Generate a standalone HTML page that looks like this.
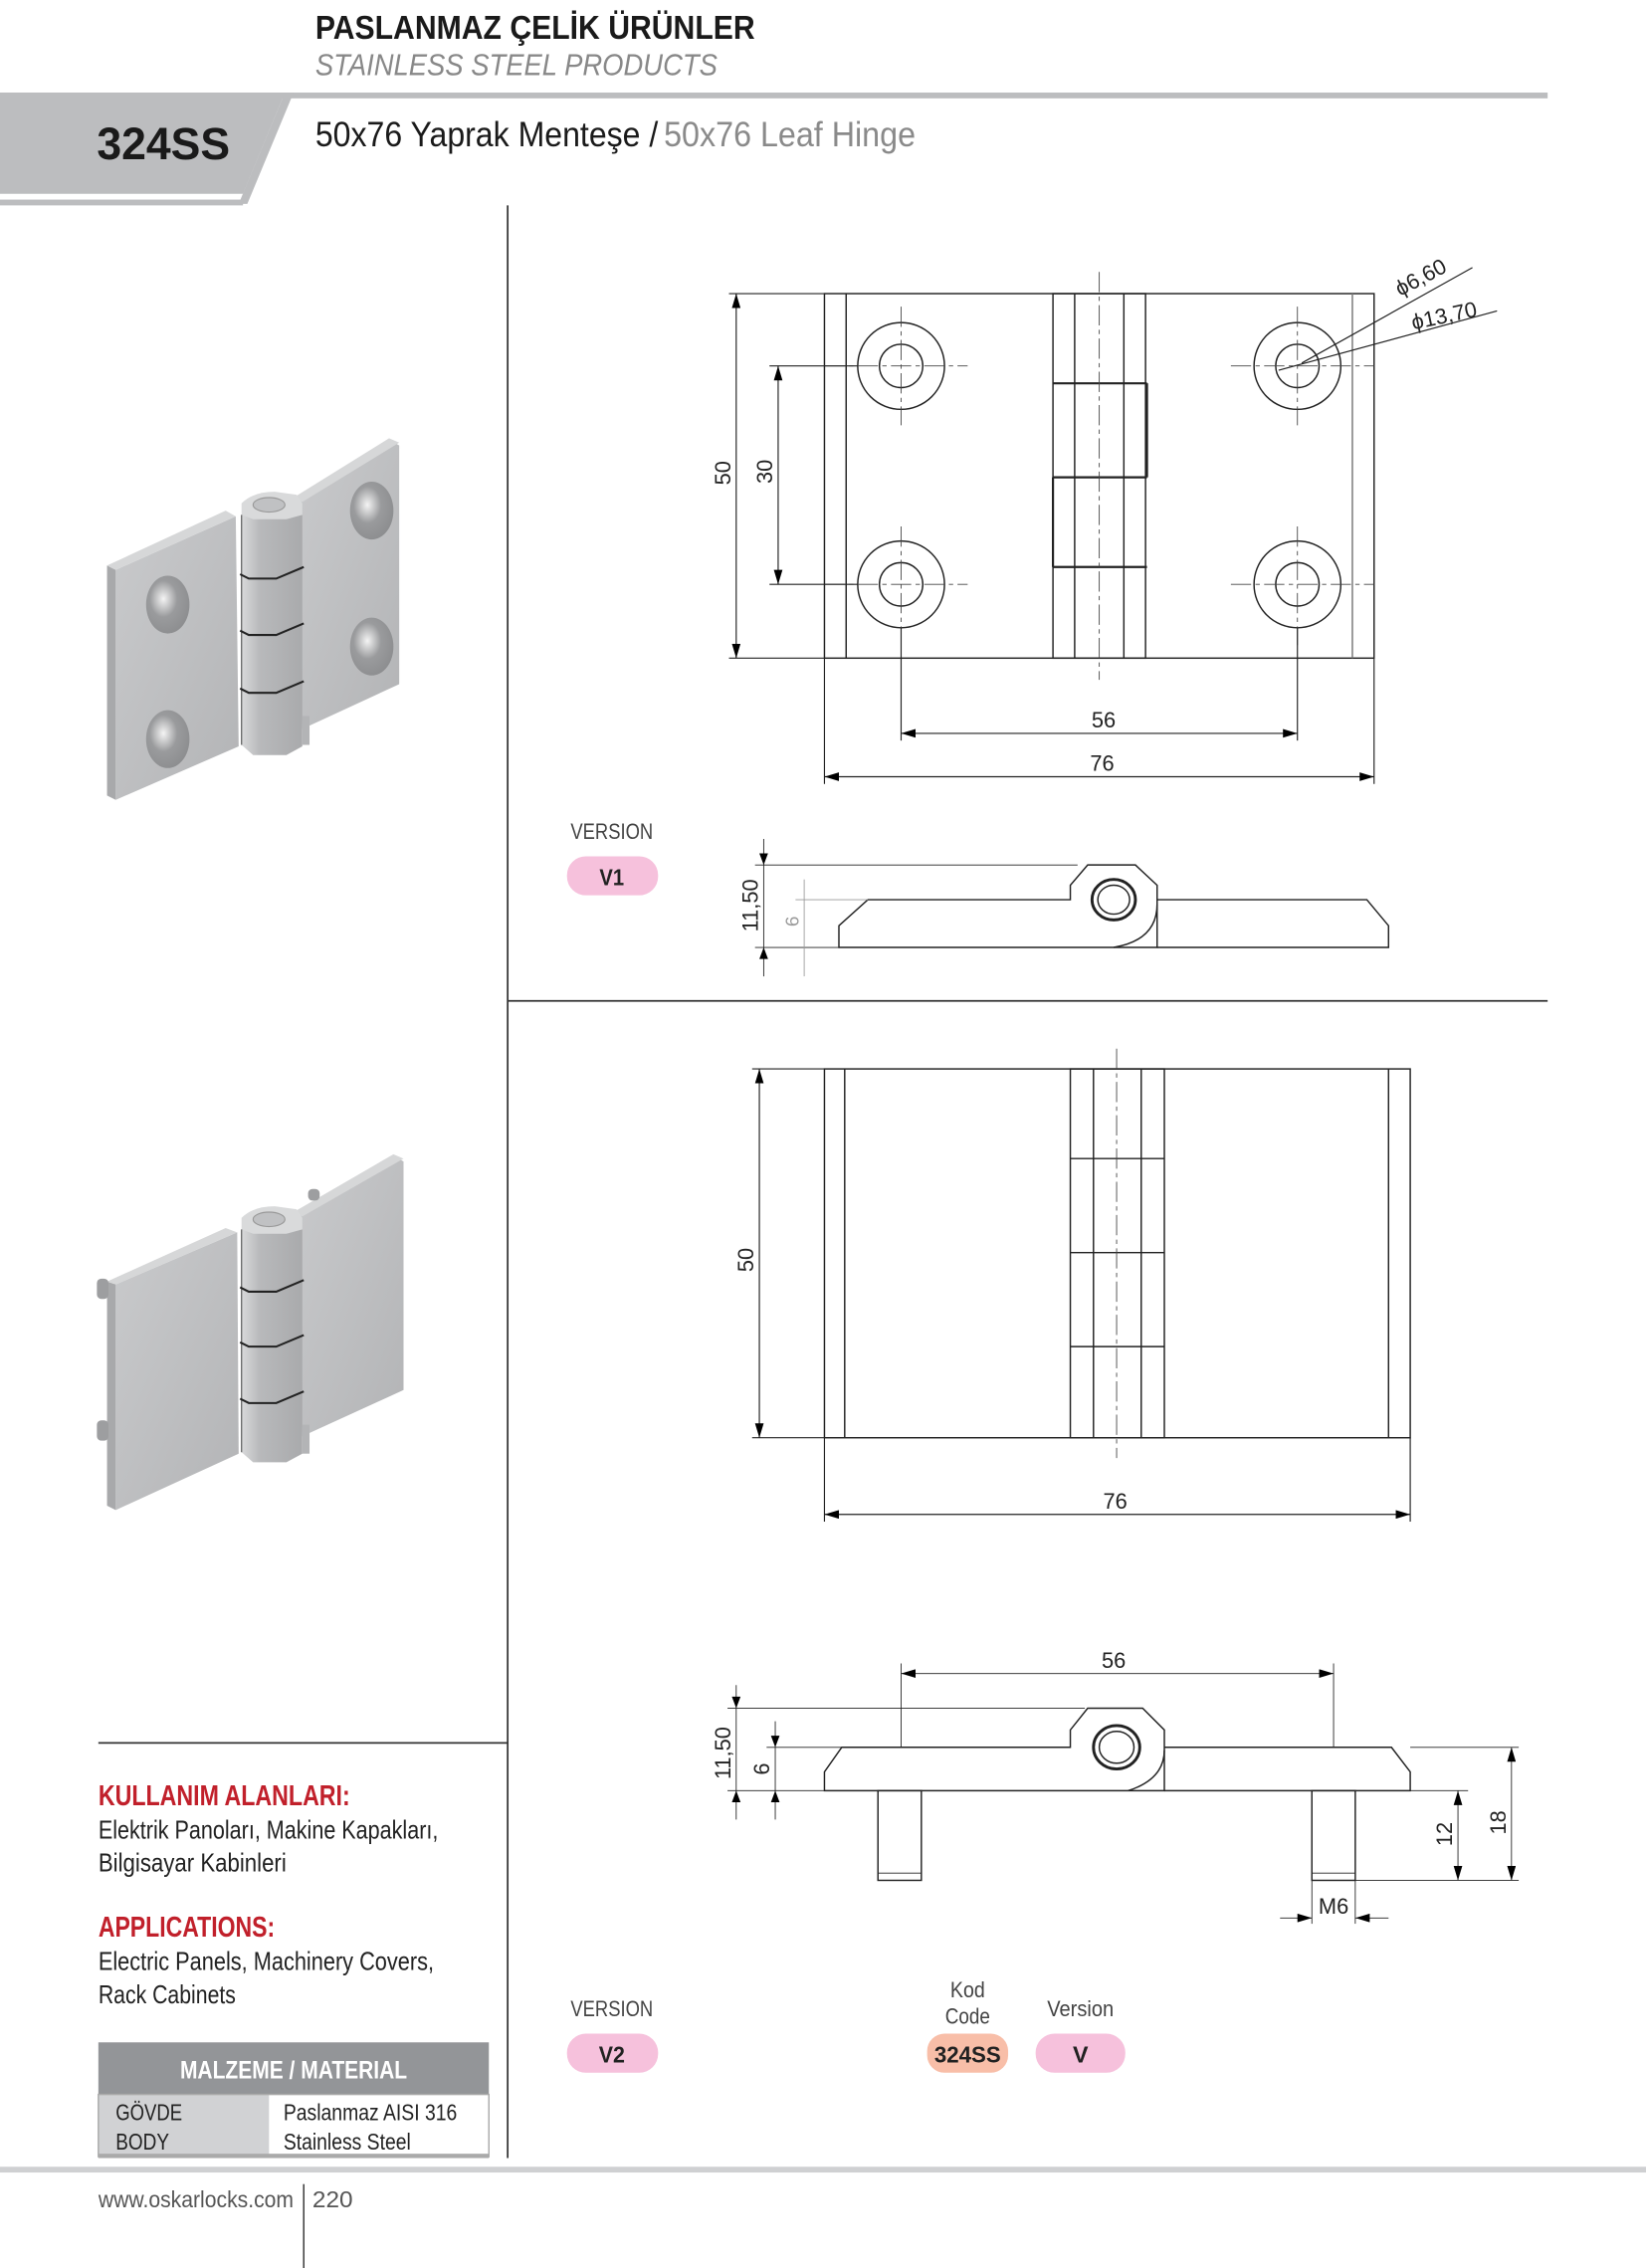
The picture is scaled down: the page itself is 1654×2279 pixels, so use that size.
<!DOCTYPE html>
<html><head><meta charset="utf-8"><style>
html,body{margin:0;padding:0;background:#fff}
svg{display:block}
text{font-family:"Liberation Sans Narrow","Liberation Sans",sans-serif}
</style></head><body>
<svg width="1654" height="2279" viewBox="0 0 1138 1568" preserveAspectRatio="none" xmlns="http://www.w3.org/2000/svg">
<defs>
<marker id="a" markerWidth="10" markerHeight="6" refX="10" refY="3" orient="auto-start-reverse" markerUnits="userSpaceOnUse"><path d="M0,0 L10,3 L0,6z" fill="#000"/></marker>
<linearGradient id="g1" x1="0" y1="0" x2="1" y2="1"><stop offset="0" stop-color="#c9cacc"/><stop offset="1" stop-color="#b3b4b6"/></linearGradient>
<linearGradient id="gk" x1="0" y1="0" x2="1" y2="0"><stop offset="0" stop-color="#d8d9da"/><stop offset="0.3" stop-color="#b8b9bb"/><stop offset="1" stop-color="#a9aaac"/></linearGradient>
<radialGradient id="gh" cx="0.4" cy="0.4" r="0.7"><stop offset="0" stop-color="#f4f4f4"/><stop offset="0.45" stop-color="#9a9b9d"/><stop offset="1" stop-color="#8a8b8d"/></radialGradient>
</defs>
<!-- header -->
<text x="218" y="27" font-size="23" font-weight="bold" fill="#1a1a1a" textLength="304" lengthAdjust="spacingAndGlyphs">PASLANMAZ ÇELİK ÜRÜNLER</text>
<text x="218" y="52" font-size="21" font-style="italic" fill="#888" textLength="278" lengthAdjust="spacingAndGlyphs">STAINLESS STEEL PRODUCTS</text>
<rect x="192" y="64" width="878" height="4" fill="#bcbdbf"/>
<polygon points="0,64 197,64 168,134 0,134" fill="#bcbdbf"/>
<polygon points="197,64 203,64 171,141 165,141" fill="#bcbdbf"/>
<rect x="0" y="138" width="168" height="4" fill="#bcbdbf"/>
<text x="67" y="110" font-size="31" font-weight="bold" fill="#1a1a1a" textLength="92" lengthAdjust="spacingAndGlyphs">324SS</text>
<text x="218" y="101" font-size="24" fill="#1a1a1a" textLength="237" lengthAdjust="spacingAndGlyphs">50x76 Yaprak Menteşe /</text>
<text x="459" y="101" font-size="24" fill="#8a8a8a" textLength="174" lengthAdjust="spacingAndGlyphs">50x76 Leaf Hinge</text>
<!-- frame lines -->
<line x1="351" y1="142" x2="351" y2="1492" stroke="#333" stroke-width="1.2"/>
<line x1="351" y1="692" x2="1070" y2="692" stroke="#333" stroke-width="1.2"/>
<line x1="68" y1="1205" x2="351" y2="1205" stroke="#333" stroke-width="1.2"/>

<!-- isometric hinge 1 -->
<g>
<polygon points="205,345 271,305 276,308 276,473 209,504" fill="url(#g1)"/>
<polygon points="203,344 269,303 276,306 209,347" fill="#d6d7d8"/>
<polygon points="80,394 163,357 165,516 80,553" fill="url(#g1)"/>
<polygon points="74,391 80,394 80,553 74,550" fill="#a8a9ab"/>
<polygon points="74,391 156,353 163,357 80,394" fill="#d6d7d8"/>
<path d="M167,356 L167,515 L175,522 L198,522 L209,516 L209,356 Z" fill="url(#gk)"/>
<rect x="209" y="495" width="5" height="20" fill="#b3b4b6"/>
<path d="M167,356 L167,348 Q175,340 190,340 L205,342 L209,348 L209,356 L198,359 L175,359 Z" fill="#d9dadb"/>
<ellipse cx="186" cy="349" rx="11" ry="5" fill="#c0c1c3" stroke="#999" stroke-width="0.8"/>
<line x1="167" y1="356" x2="167" y2="515" stroke="#555" stroke-width="0.8"/>
<ellipse cx="116" cy="418" rx="15" ry="20" fill="url(#gh)"/><ellipse cx="116" cy="511" rx="15" ry="20" fill="url(#gh)"/>
<ellipse cx="257" cy="353" rx="15" ry="20" fill="url(#gh)"/><ellipse cx="257" cy="447" rx="15" ry="20" fill="url(#gh)"/>
<g stroke="#222" stroke-width="1.4" fill="none"><path d="M166,397 L172,400 L191,400 L210,392"/><path d="M166,436 L172,439 L191,439 L210,431"/><path d="M166,476 L172,479 L191,479 L210,471"/></g>
</g>
<!-- isometric hinge 2 -->
<g>
<polygon points="205,839 274,800 279,803 279,961 209,993" fill="url(#g1)"/>
<polygon points="203,838 272,798 279,801 209,841" fill="#d6d7d8"/>
<rect x="213" y="822" width="8" height="8" rx="3" fill="#9d9ea0"/>
<polygon points="80,888 164,852 165,1005 80,1044" fill="url(#g1)"/>
<polygon points="74,886 80,888 80,1044 74,1041" fill="#a8a9ab"/>
<polygon points="74,886 156,849 164,852 80,888" fill="#d6d7d8"/>
<rect x="67" y="884" width="8" height="14" rx="3" fill="#9d9ea0"/><rect x="67" y="982" width="8" height="14" rx="3" fill="#9d9ea0"/>
<path d="M167,850 L167,1004 L175,1011 L198,1011 L209,1005 L209,850 Z" fill="url(#gk)"/>
<rect x="209" y="985" width="5" height="20" fill="#b3b4b6"/>
<path d="M167,850 L167,842 Q175,834 190,834 L205,836 L209,842 L209,850 L198,853 L175,853 Z" fill="#d9dadb"/>
<ellipse cx="186" cy="843" rx="11" ry="5" fill="#c0c1c3" stroke="#999" stroke-width="0.8"/>
<line x1="167" y1="850" x2="167" y2="1004" stroke="#555" stroke-width="0.8"/>
<g stroke="#222" stroke-width="1.4" fill="none"><path d="M166,890 L172,893 L191,893 L210,885"/><path d="M166,928 L172,931 L191,931 L210,923"/><path d="M166,967 L172,970 L191,970 L210,962"/></g>
</g>

<!-- top drawing -->
<g fill="none" stroke="#222" stroke-width="1">
<rect x="570" y="203" width="380" height="252"/>
<line x1="585" y1="203" x2="585" y2="455"/><line x1="935" y1="203" x2="935" y2="455" stroke="#777"/>
<rect x="728" y="203" width="64" height="252"/>
<line x1="743" y1="203" x2="743" y2="455"/><line x1="777" y1="203" x2="777" y2="455"/>
<line x1="728" y1="265" x2="793" y2="265" stroke-width="1.5"/><line x1="728" y1="330" x2="793" y2="330" stroke-width="1.5"/><line x1="728" y1="392" x2="793" y2="392" stroke-width="1.5"/>
<line x1="793" y1="265" x2="793" y2="330" stroke-width="1.5"/><line x1="728" y1="330" x2="728" y2="392" stroke-width="1.5"/>
<circle cx="623" cy="253" r="30"/><circle cx="623" cy="253" r="15"/>
<circle cx="623" cy="404" r="30"/><circle cx="623" cy="404" r="15"/>
<circle cx="897" cy="253" r="30"/><circle cx="897" cy="253" r="15"/>
<circle cx="897" cy="404" r="30"/><circle cx="897" cy="404" r="15"/>
</g>
<g stroke="#444" stroke-width="0.6" stroke-dasharray="14,3,3,3" fill="none">
<line x1="760" y1="188" x2="760" y2="470"/>
<line x1="570" y1="253" x2="669" y2="253"/><line x1="623" y1="212" x2="623" y2="294"/>
<line x1="570" y1="404" x2="669" y2="404"/><line x1="623" y1="364" x2="623" y2="446"/>
<line x1="851" y1="253" x2="950" y2="253"/><line x1="897" y1="212" x2="897" y2="294"/>
<line x1="851" y1="404" x2="950" y2="404"/><line x1="897" y1="364" x2="897" y2="446"/>
</g>
<g stroke="#222" stroke-width="0.8" fill="none">
<line x1="504" y1="203" x2="570" y2="203"/><line x1="504" y1="455" x2="570" y2="455"/>
<line x1="509" y1="203" x2="509" y2="455" marker-start="url(#a)" marker-end="url(#a)"/>
<line x1="532" y1="253" x2="593" y2="253"/><line x1="532" y1="404" x2="593" y2="404"/>
<line x1="538" y1="253" x2="538" y2="404" marker-start="url(#a)" marker-end="url(#a)"/>
<line x1="623" y1="434" x2="623" y2="512"/><line x1="897" y1="434" x2="897" y2="512"/>
<line x1="623" y1="507" x2="897" y2="507" marker-start="url(#a)" marker-end="url(#a)"/>
<line x1="570" y1="455" x2="570" y2="542"/><line x1="950" y1="455" x2="950" y2="542"/>
<line x1="570" y1="537" x2="950" y2="537" marker-start="url(#a)" marker-end="url(#a)"/>
<line x1="1018" y1="185" x2="900" y2="251"/><line x1="1035" y1="215" x2="884" y2="256"/>
</g>
<text x="763" y="503" font-size="15" text-anchor="middle" fill="#222">56</text>
<text x="762" y="533" font-size="15" text-anchor="middle" fill="#222">76</text>
<text transform="translate(505,327) rotate(-90)" font-size="15" text-anchor="middle" fill="#222">50</text>
<text transform="translate(534,326) rotate(-90)" font-size="15" text-anchor="middle" fill="#222">30</text>
<text transform="translate(968,205) rotate(-28)" font-size="15" fill="#222">ϕ6,60</text>
<text transform="translate(977,228) rotate(-12)" font-size="15" fill="#222">ϕ13,70</text>

<!-- V1 side -->
<g fill="none" stroke="#222" stroke-width="1">
<path d="M580,655 L580,640 L600,622 L740,622 L740,612 L752,598 L785,598 L800,612 L800,655 Z"/>
<path d="M800,622 L945,622 L960,640 L960,655 L800,655"/>
<path d="M770,655 Q800,650 800,625"/>
<ellipse cx="770" cy="622" rx="15" ry="14" stroke-width="2"/><ellipse cx="770" cy="622" rx="11" ry="10"/>
<line x1="522" y1="598" x2="745" y2="598" stroke-width="0.6"/>
<line x1="522" y1="655" x2="580" y2="655" stroke-width="0.6"/>
<line x1="528" y1="580" x2="528" y2="675" stroke-width="0.6"/>
<line x1="550" y1="622" x2="600" y2="622" stroke="#999" stroke-width="0.6"/>
<line x1="556" y1="608" x2="556" y2="675" stroke="#999" stroke-width="0.6"/>
</g>
<path d="M525,590 L528,598 L531,590Z M525,663 L528,655 L531,663Z" fill="#000"/>
<text transform="translate(524,626) rotate(-90)" font-size="15" text-anchor="middle" fill="#222">11,50</text>
<text transform="translate(552,637) rotate(-90)" font-size="13" text-anchor="middle" fill="#999">6</text>
<text x="423" y="580" font-size="15" text-anchor="middle" fill="#444" textLength="57" lengthAdjust="spacingAndGlyphs">VERSION</text>
<rect x="392" y="592" width="63" height="27" rx="13" fill="#f6c1dc"/>
<text x="423" y="612" font-size="16" font-weight="bold" text-anchor="middle" fill="#222" textLength="17" lengthAdjust="spacingAndGlyphs">V1</text>

<!-- lower top drawing -->
<g fill="none" stroke="#222" stroke-width="1">
<rect x="570" y="739" width="405" height="255"/>
<line x1="584" y1="739" x2="584" y2="994"/><line x1="960" y1="739" x2="960" y2="994"/>
<rect x="740" y="739" width="65" height="255"/>
<line x1="756" y1="739" x2="756" y2="994"/><line x1="789" y1="739" x2="789" y2="994"/>
<line x1="740" y1="801" x2="805" y2="801"/><line x1="740" y1="866" x2="805" y2="866"/><line x1="740" y1="931" x2="805" y2="931"/>
<line x1="520" y1="739" x2="570" y2="739" stroke-width="0.8"/><line x1="520" y1="994" x2="570" y2="994" stroke-width="0.8"/>
<line x1="525" y1="739" x2="525" y2="994" stroke-width="0.8" marker-start="url(#a)" marker-end="url(#a)"/>
<line x1="570" y1="994" x2="570" y2="1052" stroke-width="0.8"/><line x1="975" y1="994" x2="975" y2="1052" stroke-width="0.8"/>
<line x1="570" y1="1047" x2="975" y2="1047" stroke-width="0.8" marker-start="url(#a)" marker-end="url(#a)"/>
</g>
<line x1="772" y1="725" x2="772" y2="1008" stroke="#444" stroke-width="0.6" stroke-dasharray="14,3,3,3"/>
<text transform="translate(521,871) rotate(-90)" font-size="15" text-anchor="middle" fill="#222">50</text>
<text x="771" y="1043" font-size="15" text-anchor="middle" fill="#222">76</text>

<!-- V2 side -->
<g fill="none" stroke="#222" stroke-width="1">
<path d="M570,1238 L570,1225 L582,1208 L740,1208 L740,1196 L752,1181 L790,1181 L805,1196 L805,1238 Z"/>
<path d="M805,1208 L962,1208 L975,1225 L975,1238 L805,1238"/>
<path d="M780,1238 Q805,1230 805,1210"/>
<ellipse cx="772" cy="1208" rx="16" ry="15" stroke-width="2"/><ellipse cx="772" cy="1208" rx="12" ry="11"/>
<rect x="607" y="1238" width="30" height="62"/><rect x="907" y="1238" width="30" height="62"/>
<line x1="607" y1="1295" x2="637" y2="1295" stroke-width="0.6"/><line x1="907" y1="1295" x2="937" y2="1295" stroke-width="0.6"/>
<g stroke-width="0.6">
<line x1="623" y1="1150" x2="623" y2="1208"/><line x1="922" y1="1150" x2="922" y2="1208"/>
<line x1="623" y1="1157" x2="922" y2="1157" marker-start="url(#a)" marker-end="url(#a)"/>
<line x1="503" y1="1181" x2="750" y2="1181"/><line x1="503" y1="1238" x2="570" y2="1238"/>
<line x1="509" y1="1165" x2="509" y2="1258"/>
<line x1="530" y1="1208" x2="582" y2="1208"/><line x1="536" y1="1190" x2="536" y2="1258"/>
<line x1="975" y1="1208" x2="1050" y2="1208"/><line x1="975" y1="1238" x2="1015" y2="1238"/><line x1="937" y1="1300" x2="1050" y2="1300"/>
<line x1="1008" y1="1238" x2="1008" y2="1300" marker-start="url(#a)" marker-end="url(#a)"/>
<line x1="1045" y1="1208" x2="1045" y2="1300" marker-start="url(#a)" marker-end="url(#a)"/>
<line x1="907" y1="1300" x2="907" y2="1330"/><line x1="937" y1="1300" x2="937" y2="1330"/>
<line x1="885" y1="1326" x2="907" y2="1326" marker-end="url(#a)"/><line x1="960" y1="1326" x2="937" y2="1326" marker-end="url(#a)"/>
</g>
</g>
<path d="M506,1173 L509,1181 L512,1173Z M506,1246 L509,1238 L512,1246Z M533,1200 L536,1208 L539,1200Z M533,1246 L536,1238 L539,1246Z" fill="#000"/>
<text x="770" y="1153" font-size="15" text-anchor="middle" fill="#222">56</text>
<text transform="translate(505,1212) rotate(-90)" font-size="15" text-anchor="middle" fill="#222">11,50</text>
<text transform="translate(532,1223) rotate(-90)" font-size="15" text-anchor="middle" fill="#222">6</text>
<text transform="translate(1004,1268) rotate(-90)" font-size="15" text-anchor="middle" fill="#222">12</text>
<text transform="translate(1041,1260) rotate(-90)" font-size="15" text-anchor="middle" fill="#222">18</text>
<text x="922" y="1323" font-size="15" text-anchor="middle" fill="#222">M6</text>

<!-- version / code -->
<text x="423" y="1394" font-size="15" text-anchor="middle" fill="#444" textLength="57" lengthAdjust="spacingAndGlyphs">VERSION</text>
<rect x="392" y="1406" width="63" height="27" rx="13" fill="#f6c1dc"/>
<text x="423" y="1426" font-size="16" font-weight="bold" text-anchor="middle" fill="#222" textLength="18" lengthAdjust="spacingAndGlyphs">V2</text>
<text x="669" y="1381" font-size="15" text-anchor="middle" fill="#444" textLength="24" lengthAdjust="spacingAndGlyphs">Kod</text>
<text x="669" y="1399" font-size="15" text-anchor="middle" fill="#444" textLength="31" lengthAdjust="spacingAndGlyphs">Code</text>
<rect x="641" y="1406" width="56" height="27" rx="12" fill="#f8bea8"/>
<text x="669" y="1426" font-size="16" font-weight="bold" text-anchor="middle" fill="#222" textLength="46" lengthAdjust="spacingAndGlyphs">324SS</text>
<text x="747" y="1394" font-size="15" text-anchor="middle" fill="#444" textLength="46" lengthAdjust="spacingAndGlyphs">Version</text>
<rect x="716" y="1406" width="62" height="27" rx="13" fill="#f6c1dc"/>
<text x="747" y="1426" font-size="16" font-weight="bold" text-anchor="middle" fill="#222">V</text>

<!-- left text -->
<text x="68" y="1248" font-size="20" font-weight="bold" fill="#c1202b" textLength="174" lengthAdjust="spacingAndGlyphs">KULLANIM ALANLARI:</text>
<text x="68" y="1271" font-size="18" fill="#222" textLength="235" lengthAdjust="spacingAndGlyphs">Elektrik Panoları, Makine Kapakları,</text>
<text x="68" y="1294" font-size="18" fill="#222" textLength="130" lengthAdjust="spacingAndGlyphs">Bilgisayar Kabinleri</text>
<text x="68" y="1339" font-size="20" font-weight="bold" fill="#c1202b" textLength="122" lengthAdjust="spacingAndGlyphs">APPLICATIONS:</text>
<text x="68" y="1362" font-size="18" fill="#222" textLength="232" lengthAdjust="spacingAndGlyphs">Electric Panels, Machinery Covers,</text>
<text x="68" y="1385" font-size="18" fill="#222" textLength="95" lengthAdjust="spacingAndGlyphs">Rack Cabinets</text>
<rect x="68" y="1412" width="270" height="36" fill="#939598"/>
<text x="203" y="1437" font-size="17" font-weight="bold" text-anchor="middle" fill="#fff" textLength="157" lengthAdjust="spacingAndGlyphs">MALZEME / MATERIAL</text>
<rect x="68" y="1448" width="118" height="43" fill="#d1d2d4"/>
<rect x="68" y="1448" width="270" height="43" fill="none" stroke="#aaa" stroke-width="1"/>
<rect x="68" y="1489" width="270" height="3" fill="#aaa"/>
<text x="80" y="1466" font-size="16" fill="#222" textLength="46" lengthAdjust="spacingAndGlyphs">GÖVDE</text>
<text x="80" y="1486" font-size="16" fill="#222" textLength="37" lengthAdjust="spacingAndGlyphs">BODY</text>
<text x="196" y="1466" font-size="16" fill="#222" textLength="120" lengthAdjust="spacingAndGlyphs">Paslanmaz AISI 316</text>
<text x="196" y="1486" font-size="16" fill="#222" textLength="88" lengthAdjust="spacingAndGlyphs">Stainless Steel</text>

<!-- footer -->
<rect x="0" y="1498" width="1138" height="4" fill="#cfd0d2"/>
<text x="68" y="1526" font-size="16" fill="#555" textLength="135" lengthAdjust="spacingAndGlyphs">www.oskarlocks.com</text>
<line x1="210" y1="1510" x2="210" y2="1568" stroke="#333" stroke-width="1"/>
<text x="216" y="1526" font-size="16" fill="#555" textLength="28" lengthAdjust="spacingAndGlyphs">220</text>
</svg>
</body></html>
